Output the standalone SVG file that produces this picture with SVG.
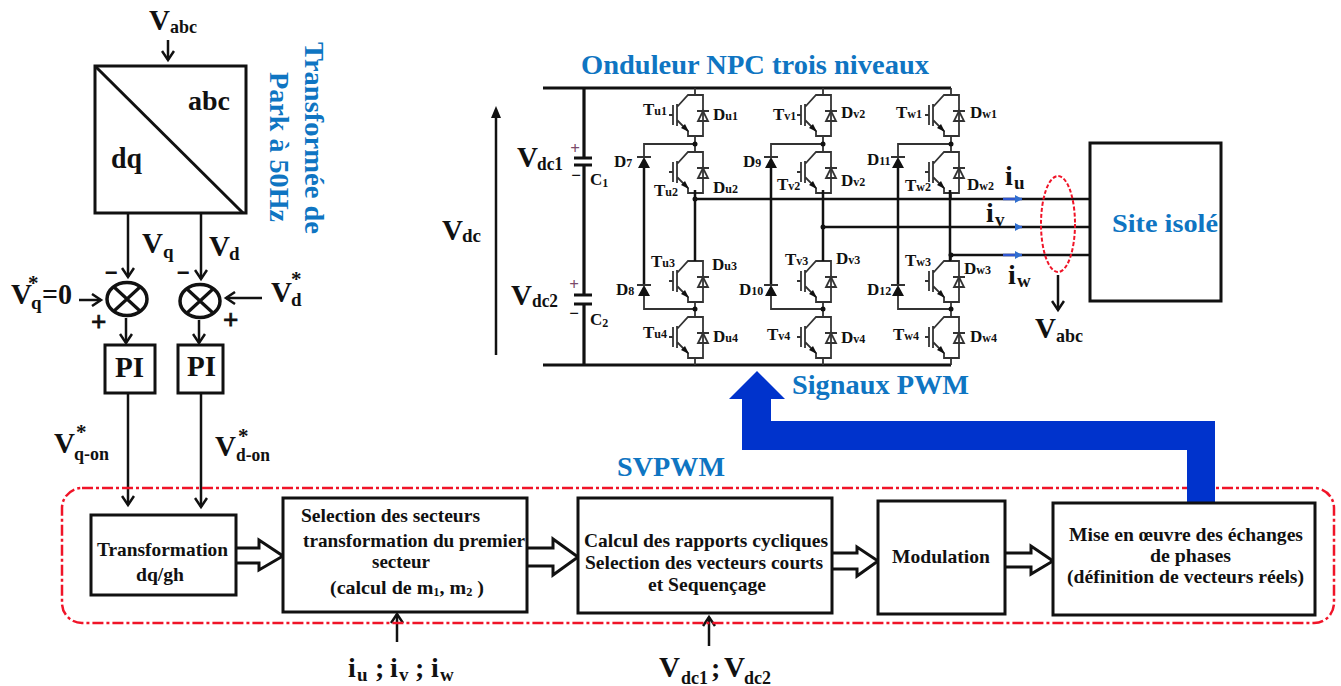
<svg xmlns="http://www.w3.org/2000/svg" xmlns:xlink="http://www.w3.org/1999/xlink" width="1341" height="686" viewBox="0 0 1341 686">
<style>
text{font-family:"Liberation Serif","Times New Roman",serif;font-weight:bold;fill:#111}
.blue{fill:#0f75c2}
.v{font-size:29px}.s{font-size:19px}
.t{font-size:17px}.ts{font-size:12px}
.b{font-size:19.5px}
.pm{stroke:#111;stroke-width:.8px}
.box{fill:#fff;stroke:#111;stroke-width:3}
.w{fill:none;stroke:#111;stroke-width:2.5}
.th{fill:none;stroke:#111;stroke-width:3.2}
.g{fill:none;stroke:#333;stroke-width:1.8}
.k{fill:#111;stroke:none}
.ha{fill:#fff;stroke:#111;stroke-width:3}
</style>
<defs>
<marker id="ah" markerUnits="userSpaceOnUse" markerWidth="16" markerHeight="14" refX="11" refY="7" orient="auto"><path d="M2,1 L11,7 L2,13" fill="none" stroke="#111" stroke-width="2.5"/></marker>
<marker id="bl" markerUnits="userSpaceOnUse" markerWidth="8" markerHeight="8" refX="7" refY="4" orient="auto"><path d="M0,0 L7,4 L0,8Z" fill="#2f6fd0"/></marker>
<g id="igbt">
<path class="g" d="M0,-7V0H-7L-18,12M-18,9V31M-22,10V30M-26,20H-22M-18,25L-7,36V41H8V0H0M0,41V48"/>
<path class="k" d="M-6,37L-14,33L-10,29Z"/>
<path class="g" d="M2,16H14M3,26H13L8,16Z"/>
</g>
<g id="sum"><ellipse rx="20" ry="16.500" fill="#fff" stroke="#111" stroke-width="3.500"/><path d="M-13,-12L13,12M13,-12L-13,12" stroke="#111" stroke-width="3.200"/></g>
</defs>
<g id="connectors">
<path class="w" marker-end="url(#ah)" d="M168,40V60"/>
<path class="w" marker-end="url(#ah)" d="M128,214V277"/>
<path class="w" marker-end="url(#ah)" d="M201,214V279"/>
<path class="w" marker-end="url(#ah)" d="M79,300H101"/>
<path class="w" marker-end="url(#ah)" d="M262,298H226"/>
<path class="w" marker-end="url(#ah)" d="M126,318V343"/>
<path class="w" marker-end="url(#ah)" d="M199,320V343"/>
<path class="w" marker-end="url(#ah)" d="M128,393V505"/>
<path class="w" marker-end="url(#ah)" d="M201,393V507"/>
<path class="w" marker-end="url(#ah)" d="M397,642V614"/>
<path class="w" marker-end="url(#ah)" d="M709,646V617"/>
<path class="ha" d="M236,548H259V540L283,556L259,570V563H236"/>
<path class="ha" d="M527,548H553V539L578,557L553,575V566H527"/>
<path class="ha" d="M833,553H857V547L878,561L857,576V569H833"/>
<path class="ha" d="M1005,553H1031V546L1053,561L1031,574V567H1005"/>
</g>
<g id="park">
<rect class="box" x="95" y="66" width="151" height="147"/>
<path d="M95,66L243,213" stroke="#111" stroke-width="3"/>
<text x="188" y="110" font-size="28" textLength="42" lengthAdjust="spacingAndGlyphs">abc</text>
<text x="111" y="168" font-size="30" textLength="31" lengthAdjust="spacingAndGlyphs">dq</text>
</g>
<g id="sum-q"><use xlink:href="#sum" href="#sum" x="127" y="299"/></g>
<g id="sum-d"><use xlink:href="#sum" href="#sum" x="200" y="301"/></g>
<g id="pi-q"><rect class="box" x="105" y="345" width="50" height="48"/><text x="115" y="377" font-size="30" textLength="29" lengthAdjust="spacingAndGlyphs">PI</text></g>
<g id="pi-d"><rect class="box" x="178" y="345" width="45" height="48"/><text x="187" y="376" font-size="30" textLength="29" lengthAdjust="spacingAndGlyphs">PI</text></g>
<g id="labels-left">
<text x="149" y="30" class="v">V</text><text x="170" y="33" class="s" textLength="27" lengthAdjust="spacingAndGlyphs">abc</text>
<text x="142" y="253" class="v">V</text><text x="163" y="258" class="s">q</text>
<text x="209" y="256" class="v">V</text><text x="229" y="260" class="s">d</text>
<text x="11" y="304" class="v">V</text><text x="28" y="290" font-size="21">*</text><text x="31" y="309" class="s">q</text><text x="42" y="304" font-size="30" textLength="30" lengthAdjust="spacingAndGlyphs">=0</text>
<text x="271" y="302" class="v">V</text><text x="291" y="286" font-size="21">*</text><text x="291" y="306" class="s">d</text>
<text x="105" y="280" font-size="22" class="pm">−</text><text x="177" y="280" font-size="22" class="pm">−</text>
<text x="91" y="331" font-size="27" class="pm">+</text><text x="223" y="329" font-size="27" class="pm">+</text>
<text x="54" y="453" class="v">V</text><text x="76" y="439" font-size="21">*</text><text x="74" y="460" class="s" textLength="35" lengthAdjust="spacingAndGlyphs">q-on</text>
<text x="215" y="456" class="v">V</text><text x="238" y="443" font-size="21">*</text><text x="236" y="461" class="s" textLength="34" lengthAdjust="spacingAndGlyphs">d-on</text>
<text class="blue" font-size="28" transform="translate(305,42) rotate(90)" textLength="192" lengthAdjust="spacingAndGlyphs">Transformée de</text>
<text class="blue" font-size="28" transform="translate(270,72) rotate(90)" textLength="150" lengthAdjust="spacingAndGlyphs">Park à 50Hz</text>
</g>
<g id="onduleur">
<path class="th" d="M543,88H951M543,365H951"/>
<path class="th" d="M584,88V158M584,165V295M584,304V365M574,158H592M574,165H592M574,295H592M574,304H592"/>
<path class="w" d="M496,355V112"/><path class="k" d="M496,106L491,118H501Z"/>
<g id="cells">
<use xlink:href="#igbt" href="#igbt" x="695" y="95"/><use xlink:href="#igbt" href="#igbt" x="695" y="152"/><use xlink:href="#igbt" href="#igbt" x="695" y="261"/><use xlink:href="#igbt" href="#igbt" x="695" y="317"/>
<use xlink:href="#igbt" href="#igbt" x="823" y="95"/><use xlink:href="#igbt" href="#igbt" x="823" y="152"/><use xlink:href="#igbt" href="#igbt" x="823" y="261"/><use xlink:href="#igbt" href="#igbt" x="823" y="317"/>
<use xlink:href="#igbt" href="#igbt" x="951" y="95"/><use xlink:href="#igbt" href="#igbt" x="951" y="152"/><use xlink:href="#igbt" href="#igbt" x="951" y="261"/><use xlink:href="#igbt" href="#igbt" x="951" y="317"/>
</g>
<path class="g" d="M695,144H644V157M695,309H644V296M823,144H771V157M823,309H771V296M951,144H898V157M951,309H898V296"/>
<path class="w" d="M644,167V286M771,167V286M898,167V286"/>
<path class="k" d="M644,157L650,168H638ZM644,285L650,296H638ZM771,157L777,168H765ZM771,285L777,296H765ZM898,157L904,168H892ZM898,285L904,296H892Z"/>
<path class="g" d="M637,157H651M637,285H651M764,157H778M764,285H778M891,157H905M891,285H905"/>
<circle class="k" cx="695" cy="144" r="2.500"/><circle class="k" cx="695" cy="309" r="2.500"/><circle class="k" cx="823" cy="144" r="2.500"/><circle class="k" cx="823" cy="309" r="2.500"/><circle class="k" cx="951" cy="144" r="2.500"/><circle class="k" cx="951" cy="309" r="2.500"/>
<path class="w" d="M695,199H1090M823,227H1090M951,255H1090M695,190V261M823,190V261M950,190V261"/>
<circle class="k" cx="695" cy="199" r="2.500"/><circle class="k" cx="823" cy="227" r="2.500"/><circle class="k" cx="951" cy="255" r="2.500"/>
<g stroke="#2f56d0" stroke-width="2.500" marker-end="url(#bl)"><path d="M1003,199H1022"/><path d="M1016,227H1022"/><path d="M1003,255H1022"/></g>
<ellipse cx="1058" cy="224" rx="17" ry="48" fill="none" stroke="#f01428" stroke-width="2" stroke-dasharray="4 2"/>
<path class="w" marker-end="url(#ah)" d="M1058,275V310"/>
<text x="575" y="154" font-size="17" style="fill:#7a4a6a" text-anchor="middle">+</text>
<text x="576" y="181" font-size="17" text-anchor="middle">−</text>
<text x="574" y="290" font-size="17" style="fill:#7a4a6a" text-anchor="middle">+</text>
<text x="574" y="319" font-size="17" text-anchor="middle">−</text>
</g>
<g id="labels-onduleur">
<text x="581" y="74" class="blue" font-size="27" textLength="348" lengthAdjust="spacingAndGlyphs">Onduleur NPC trois niveaux</text>
<text x="442" y="240" class="v">V</text><text x="462" y="242" class="s" textLength="19" lengthAdjust="spacingAndGlyphs">dc</text>
<text x="517" y="167" class="v">V</text><text x="537" y="170" class="s" textLength="26" lengthAdjust="spacingAndGlyphs">dc1</text>
<text x="511" y="305" class="v">V</text><text x="532" y="307" class="s" textLength="26" lengthAdjust="spacingAndGlyphs">dc2</text>
<text x="590" y="185" font-size="17">C<tspan font-size="12" dy="2">1</tspan></text>
<text x="590" y="325" font-size="17">C<tspan font-size="12" dy="2">2</tspan></text>
<g class="dev">
<text class="t" x="643" y="115">T<tspan class="ts">u1</tspan></text><text class="t" x="713" y="120">D<tspan class="ts">u1</tspan></text>
<text class="t" x="654" y="196">T<tspan class="ts">u2</tspan></text><text class="t" x="713" y="193">D<tspan class="ts">u2</tspan></text>
<text class="t" x="651" y="267">T<tspan class="ts">u3</tspan></text><text class="t" x="712" y="270">D<tspan class="ts">u3</tspan></text>
<text class="t" x="643" y="338">T<tspan class="ts">u4</tspan></text><text class="t" x="713" y="342">D<tspan class="ts">u4</tspan></text>
<text class="t" x="614" y="167">D<tspan class="ts">7</tspan></text><text class="t" x="616" y="295">D<tspan class="ts">8</tspan></text>
<text class="t" x="743" y="167">D<tspan class="ts">9</tspan></text><text class="t" x="739" y="295">D<tspan class="ts">10</tspan></text>
<text class="t" x="773" y="120">T<tspan class="ts">v1</tspan></text><text class="t" x="841" y="118">D<tspan class="ts">v2</tspan></text>
<text class="t" x="777" y="190">T<tspan class="ts">v2</tspan></text><text class="t" x="841" y="186">D<tspan class="ts">v2</tspan></text>
<text class="t" x="785" y="265">T<tspan class="ts">v3</tspan></text><text class="t" x="836" y="264">D<tspan class="ts">v3</tspan></text>
<text class="t" x="767" y="340">T<tspan class="ts">v4</tspan></text><text class="t" x="841" y="343">D<tspan class="ts">v4</tspan></text>
<text class="t" x="867" y="165">D<tspan class="ts">11</tspan></text><text class="t" x="867" y="295">D<tspan class="ts">12</tspan></text>
<text class="t" x="896" y="118">T<tspan class="ts">w1</tspan></text><text class="t" x="970" y="118">D<tspan class="ts">w1</tspan></text>
<text class="t" x="905" y="191">T<tspan class="ts">w2</tspan></text><text class="t" x="967" y="190">D<tspan class="ts">w2</tspan></text>
<text class="t" x="905" y="266">T<tspan class="ts">w3</tspan></text><text class="t" x="964" y="274">D<tspan class="ts">w3</tspan></text>
<text class="t" x="893" y="340">T<tspan class="ts">w4</tspan></text><text class="t" x="970" y="342">D<tspan class="ts">w4</tspan></text>
</g>
<text x="1005" y="185" font-size="28">i</text><text x="1014" y="189" class="s">u</text>
<text x="986" y="222" font-size="28">i</text><text x="995" y="226" class="s">v</text>
<text x="1008" y="284" font-size="28">i</text><text x="1017" y="287" class="s">w</text>
<text x="1035" y="338" class="v">V</text><text x="1056" y="342" class="s" textLength="27" lengthAdjust="spacingAndGlyphs">abc</text>
<text x="792" y="394" class="blue" font-size="28" textLength="177" lengthAdjust="spacingAndGlyphs">Signaux PWM</text>
<text x="617" y="476" class="blue" font-size="28" textLength="108" lengthAdjust="spacingAndGlyphs">SVPWM</text>
</g>
<g id="site"><rect class="box" x="1090" y="143" width="131" height="158"/><text x="1112" y="232" class="blue" font-size="25" textLength="106" lengthAdjust="spacingAndGlyphs">Site isolé</text></g>
<g id="svpwm"><rect x="62" y="488" width="1272" height="135" rx="20" fill="none" stroke="#f01428" stroke-width="2.500" stroke-dasharray="11 3 3 3"/></g>
<path id="pwm" fill="#0033cc" d="M757,371L785,399H771V421H1215V503H1187V450H742V399H729Z"/>
<g id="b1"><rect class="box" x="91" y="515" width="145" height="80"/><text class="b" x="97" y="556" textLength="131" lengthAdjust="spacingAndGlyphs">Transformation</text><text class="b" x="136" y="581" textLength="48" lengthAdjust="spacingAndGlyphs">dq/gh</text></g>
<g id="b2"><rect class="box" x="283" y="498" width="244" height="114"/>
<text class="b" x="301" y="522" textLength="179" lengthAdjust="spacingAndGlyphs">Selection des secteurs</text>
<text class="b" x="303" y="547" textLength="222" lengthAdjust="spacingAndGlyphs">transformation du premier</text>
<text class="b" x="372" y="568" textLength="58" lengthAdjust="spacingAndGlyphs">secteur</text>
<text class="b" x="330" y="594" textLength="154" lengthAdjust="spacingAndGlyphs">(calcul de m<tspan font-size="12" dy="2">1</tspan><tspan dy="-2">, m</tspan><tspan font-size="12" dy="2">2</tspan><tspan dy="-2">  )</tspan></text></g>
<g id="b3"><rect class="box" x="578" y="498" width="254" height="115"/>
<text class="b" x="584" y="547" textLength="244" lengthAdjust="spacingAndGlyphs">Calcul des rapports cycliques</text>
<text class="b" x="585" y="569" textLength="238" lengthAdjust="spacingAndGlyphs">Selection des vecteurs courts</text>
<text class="b" x="648" y="591" textLength="118" lengthAdjust="spacingAndGlyphs">et Sequençage</text></g>
<g id="b4"><rect class="box" x="878" y="501" width="127" height="113"/><text class="b" x="892" y="563" textLength="98" lengthAdjust="spacingAndGlyphs">Modulation</text></g>
<g id="b5"><rect class="box" x="1053" y="503" width="262" height="112"/>
<text class="b" x="1069" y="541" textLength="234" lengthAdjust="spacingAndGlyphs">Mise en œuvre des échanges</text>
<text class="b" x="1150" y="562" textLength="81" lengthAdjust="spacingAndGlyphs">de phases</text>
<text class="b" x="1067" y="583" textLength="237" lengthAdjust="spacingAndGlyphs">(définition de vecteurs réels)</text></g>
<g id="labels-bottom">
<text x="348" y="677" font-size="28">i</text><text x="357" y="681" class="s">u</text><text x="375" y="677" font-size="28">;</text><text x="390" y="677" font-size="28">i</text><text x="399" y="681" class="s">v</text><text x="415" y="677" font-size="28">;</text><text x="431" y="677" font-size="28">i</text><text x="440" y="681" class="s">w</text>
<text x="659" y="677" class="v">V</text><text x="681" y="684" class="s" textLength="27" lengthAdjust="spacingAndGlyphs">dc1</text><text x="711" y="677" font-size="28">;</text><text x="724" y="677" class="v">V</text><text x="744" y="684" class="s" textLength="27" lengthAdjust="spacingAndGlyphs">dc2</text>
</g>
</svg>
